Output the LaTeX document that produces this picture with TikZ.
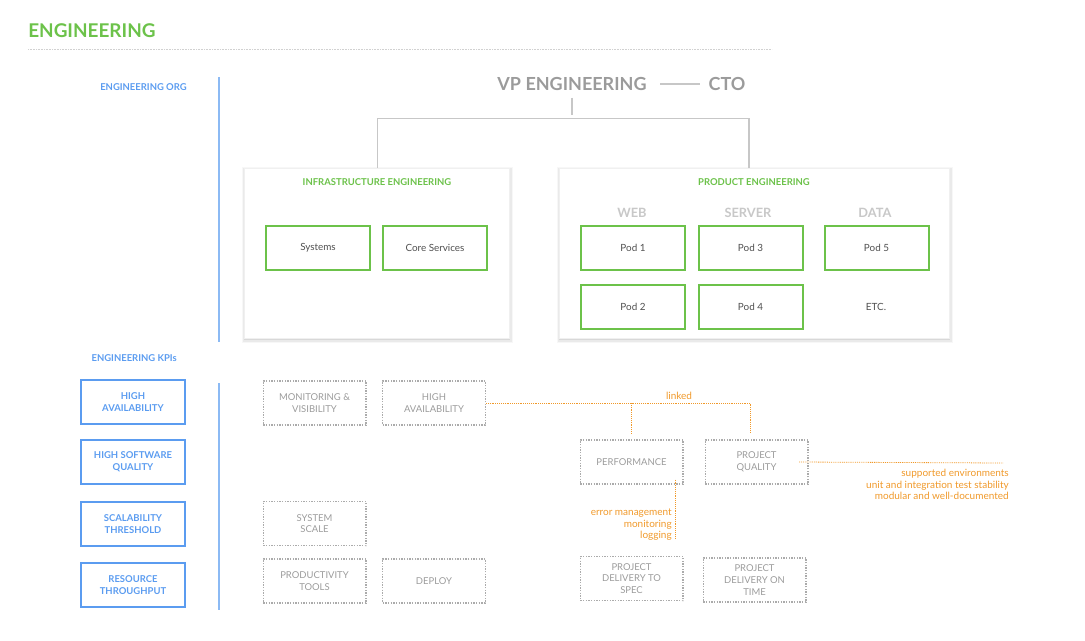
\documentclass[tikz,border=0pt]{standalone}
\usepackage{fontspec}
\setmainfont{Lato}
\usetikzlibrary{shadows}

\definecolor{enggreen}{HTML}{6CC24A}
\definecolor{kpiblue}{HTML}{5B9CF0}
\definecolor{orgtext}{HTML}{9B9B9B}
\definecolor{podtext}{HTML}{505050}
\definecolor{teamtext}{HTML}{C8C8C8}
\definecolor{boxgray}{HTML}{ABABAB}
\definecolor{linkorange}{HTML}{F0992A}

\tikzset{
  pagetitle/.style={text=enggreen, font=\fontsize{14.2pt}{16pt}\selectfont\bfseries, inner sep=0pt},
  titlerule/.style={draw=black!18, line width=0.6pt, dash pattern=on 0.6pt off 0.6pt},
  sectionlabel/.style={text=kpiblue, font=\fontsize{7.1pt}{8pt}\selectfont\bfseries, inner sep=0pt},
  sectionline/.style={draw=kpiblue!70, line width=0.8pt},
  toptitle/.style={text=orgtext, font=\fontsize{13.5pt}{16pt}\selectfont\bfseries, inner sep=0pt},
  orgline/.style={draw=black!22, line width=0.8pt},
  orgbox/.style={fill=white, draw=black!6, line width=0.4pt, minimum height=127.5pt, inner sep=0pt,
    general shadow={draw=black, opacity=0.03, line width=4.5pt, shadow yshift=-1.6pt, shadow xshift=0.6pt},
    general shadow={draw=black, opacity=0.05, line width=2.8pt, shadow yshift=-1.3pt, shadow xshift=0.5pt},
    general shadow={draw=black, opacity=0.08, line width=1.4pt, shadow yshift=-1pt, shadow xshift=0.4pt}},
  grouptitle/.style={text=enggreen, font=\fontsize{7.1pt}{8pt}\selectfont\bfseries, inner sep=0pt},
  teamhead/.style={text=teamtext, font=\fontsize{9.6pt}{11pt}\selectfont\bfseries, inner sep=0pt},
  pod/.style={draw=enggreen, line width=1.5pt, minimum width=78pt, minimum height=33pt,
    inner sep=0pt, text=podtext, font=\fontsize{7.4pt}{8pt}\selectfont},
  podtext/.style={text=podtext, font=\fontsize{7.4pt}{8pt}\selectfont, inner sep=0pt},
  kpi/.style={draw=kpiblue, line width=1.1pt, minimum width=78pt, minimum height=33pt,
    inner sep=0pt, align=center, text=kpiblue, font=\fontsize{7.1pt}{8.8pt}\selectfont\bfseries},
  metric/.style={draw=boxgray, line width=1pt, dash pattern=on 1pt off 1pt, minimum width=77pt,
    minimum height=33pt, inner sep=0pt, align=center, text=orgtext, font=\fontsize{7.1pt}{8.8pt}\selectfont},
  link/.style={draw=linkorange, line width=0.6pt, dash pattern=on 0.7pt off 0.7pt},
  linknote/.style={text=linkorange, font=\fontsize{7.5pt}{8.6pt}\selectfont, inner sep=0pt, align=right}
}

\begin{document}
\begin{tikzpicture} [x = 0.75pt, y = -0.75pt]
\useasboundingbox (0, 0) rectangle (1085, 640);

% heading
\node[pagetitle, anchor=west] (title) at (28, 31){ENGINEERING};
\coordinate (rulestart) at (28, 49);
\coordinate (ruleend) at (772, 49);
\draw[titlerule] (rulestart) -- (ruleend);

% section labels
\node[sectionlabel, anchor=east] (orglabel) at (187, 87){ENGINEERING ORG};
\coordinate (orgtop) at (219, 77);
\coordinate (orgbot) at (219, 342);
\draw[sectionline] (orgtop) -- (orgbot);
\node[sectionlabel, anchor=east] (kpilabel) at (177, 358){ENGINEERING KPIs};
\coordinate (kpitop) at (219, 383);
\coordinate (kpibot) at (219, 610);
\draw[sectionline] (kpitop) -- (kpibot);

% org chart
\node[toptitle] (vp) at (572, 84){VP ENGINEERING};
\node[toptitle] (cto) at (727, 84){CTO};
\draw[orgline] ([xshift=10pt]vp.east) -- ([xshift=-6pt]cto.west);
\coordinate (vpdrop) at (572, 115);
\draw[orgline] ([yshift=-5pt]vp.south) -- (vpdrop);

\node[orgbox, minimum width=198.75pt] (infra) at (376.5, 253){};
\node[orgbox, minimum width=292.5pt] (product) at (754, 253){};
\draw[orgline] ([xshift=0.4pt]infra.north) -- ++(0, -49) -| ([xshift=-3.75pt]product.north);

\node[grouptitle] (infratitle) at (377, 182){INFRASTRUCTURE ENGINEERING};
\node[pod] (systems) at (318, 247.5){Systems};
\node[pod] (core) at (435, 247.5){Core Services};

\node[grouptitle] (producttitle) at (754, 182){PRODUCT ENGINEERING};
\node[teamhead] (web) at (632, 213){WEB};
\node[teamhead] (server) at (748, 213){SERVER};
\node[teamhead] (data) at (875, 213){DATA};
\node[pod] (pod1) at (633, 247.5){Pod 1};
\node[pod] (pod3) at (750.5, 247.5){Pod 3};
\node[pod] (pod5) at (876.5, 247.5){Pod 5};
\node[pod] (pod2) at (633, 307){Pod 2};
\node[pod] (pod4) at (750.5, 307){Pod 4};
\node[podtext] (etc) at (876, 307){ETC.};

% KPIs
\node[kpi] (kpiavail) at (133, 402){HIGH\\AVAILABILITY};
\node[kpi] (kpiquality) at (133, 462){HIGH SOFTWARE\\QUALITY};
\node[kpi] (kpiscale) at (133, 524){SCALABILITY\\THRESHOLD};
\node[kpi] (kpiresource) at (133, 585){RESOURCE\\THROUGHPUT};

\node[metric] (monitor) at (314.5, 403){MONITORING \&\\VISIBILITY};
\node[metric] (avail) at (434, 403){HIGH\\AVAILABILITY};
\node[metric] (sysscale) at (314.5, 523.5){SYSTEM\\SCALE};
\node[metric] (tools) at (314.5, 581){PRODUCTIVITY\\TOOLS};
\node[metric] (deploy) at (434, 581){DEPLOY};
\node[metric] (perf) at (631.5, 462){PERFORMANCE};
\node[metric] (projquality) at (756.5, 462){PROJECT\\QUALITY};
\node[metric] (tospec) at (631.5, 578.5){PROJECT\\DELIVERY TO\\SPEC};
\node[metric] (ontime) at (754.5, 580){PROJECT\\DELIVERY ON\\TIME};

% links
\draw[link] (avail.east) -| ([xshift=-4.5pt, yshift=5pt]projquality.north);
\draw[link] (perf.north |- avail.east) -- ([yshift=4.5pt]perf.north);
\node[linknote] (linked) at (679, 396){linked};

\coordinate (qualityend) at (1003, 463);
\draw[link] ([xshift=-7pt]projquality.east) -- (qualityend);
\node[linknote, anchor=north east] (qualitynote) at (1009, 469){supported environments\\unit and integration test stability\\modular and well-documented};

\coordinate (perfend) at (675.5, 539);
\draw[link] ([xshift=33pt, yshift=3.75pt]perf.south) -- (perfend);
\node[linknote, anchor=north east] (perfnote) at (672, 509){error management\\monitoring\\logging};
\end{tikzpicture}
\end{document}
